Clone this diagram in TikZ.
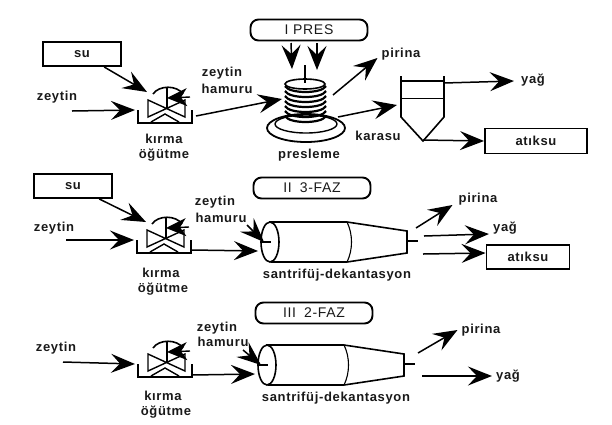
\documentclass[tikz,border=0pt]{standalone}
\usepackage{fontspec}
\setmainfont{Liberation Sans}
\newfontfamily\tagfont[LetterSpace=5]{Liberation Sans}
\usepackage{tikz}
\usetikzlibrary{arrows.meta}
\tikzstyle{tag} = [font=\tagfont\fontsize{13}{15}\selectfont\bfseries, inner sep=4pt, text=black!90]
\tikzstyle{block} = [rectangle, draw=black, line width=1.9pt, minimum width=78pt, minimum height=24pt, tag]
\tikzstyle{pill} = [rectangle, rounded corners=8pt, draw=black, line width=1.9pt, minimum width=117pt, minimum height=21pt, tag, font=\tagfont\fontsize{14}{16}\selectfont]
\tikzstyle{arrow} = [line width=1.5pt,-{Stealth[length=24pt,width=19pt,inset=9pt,line width=1.4pt]}]
\tikzstyle{wall} = [line width=1.6pt]
\tikzset{
  mill/.pic={
    \draw [line width=2pt] (-27,-13) -- (-27,0) -- (27,0) -- (27,-13);
    \draw [line width=1.4pt] (-17,-23) -- (-17,-6) -- (20,-23) -- (20,-6) -- cycle;
    \draw [line width=1.4pt] (-14,-1) -- (0,-9) -- (14,-1);
    \draw [line width=1.6pt] (-12,-29) .. controls (-6,-38) and (12,-38) .. (18,-29);
    \draw [line width=1.6pt] (2,-36) -- (2,-14);
    \draw [line width=1.4pt,-{Stealth[length=20pt,width=18pt,inset=6pt,line width=1.4pt]}] (25,-26) -- (2,-25);
    \coordinate (-su) at (-18,-31);
    \coordinate (-in) at (-30,-13);
    \coordinate (-out) at (31,-7);
  },
  decanter/.pic={
    \draw [wall] (0,0) ellipse [x radius=9pt, y radius=20pt];
    \draw [wall] (-1,-20) -- (77,-20) -- (137,-11) -- (137,11) -- (77,20) -- (1,20);
    \draw [line width=1.1pt] (77,-20) .. controls (83,-8) and (83,8) .. (77,20);
    \draw [wall] (137,-1) -- (148,-1);
    \draw [wall] (-9,0) -- (1,0);
    \coordinate (-hamur) at (-6,0);
    \coordinate (-in) at (-12,9);
  }
}

\begin{document}
\begin{tikzpicture}[x=1pt,y=-1pt,node distance=16pt]
\useasboundingbox (0,0) rectangle (612,424);

% I PRES
\node (pres) [pill] at (309,30) {I PRES};
\node (su1) [block] at (82,54) {su};
\node (zeytin1) [tag] at (57,97) {zeytin};
\pic (mill1) at (165,123) {mill};
\node (kirma1) [tag] at (164,139) {kırma};
\node (ogutme1) [tag, below of=kirma1] {öğütme};
\node (hamur1) [tag] at (222,73) {zeytin};
\node (hamuru1) [tag, below of=hamur1, xshift=5pt] {hamuru};
\node (presleme) [tag] at (309,155) {presleme};
\node (pirina1) [tag] at (401,54) {pirina};
\node (karasu) [tag] at (378,136) {karasu};
\node (yag1) [tag] at (533,80) {yağ};
\node (atiksu1) [block, minimum width=102pt, minimum height=25pt] at (536,141) {atıksu};

% pres
\draw [line width=1.8pt] (306,128) ellipse [x radius=39pt, y radius=14pt];
\draw [line width=1.4pt] (306,124) ellipse [x radius=31pt, y radius=9pt];
\draw [line width=1.6pt, fill=white] (305,84) ellipse [x radius=20pt, y radius=5pt];
\foreach \y in {86,91,96,101,106,111,116}
  \draw [line width=2.2pt] (285,\y) .. controls (289,\y+8) and (322,\y+8) .. (326,\y);
\draw [line width=1.8pt] (305,65) -- (305,83);
\coordinate (press1top) at (291,43);
\coordinate (press1down) at (292,69);
\coordinate (press2top) at (317,43);
\coordinate (press2down) at (317,70);
\coordinate (press1out) at (333,95);
\coordinate (press1liq) at (338,117);

% tank
\draw [wall] (401,76) -- (401,117) -- (423,141) -- (444,117) -- (444,76);
\draw [wall] (401,81) -- (444,81);
\draw [line width=1pt] (401,98) -- (444,98);
\coordinate (tankin) at (397,105);
\coordinate (tankoil) at (444,83);
\coordinate (tankout) at (423,140);

% II 3-FAZ
\node (faz3) [pill] at (312,188) {II\hspace{8pt}3-FAZ};
\node (su2) [block] at (73,186) {su};
\node (zeytin2) [tag] at (54,228) {zeytin};
\pic (mill2) at (164,253) {mill};
\node (kirma2) [tag] at (161,273) {kırma};
\node (ogutme2) [tag, below of=kirma2, xshift=2pt] {öğütme};
\node (hamur2) [tag] at (215,202) {zeytin};
\node (hamuru2) [tag, below of=hamur2, xshift=6pt] {hamuru};
\pic (dec2) at (270,242) {decanter};
\node (sant2) [tag] at (337,275) {santrifüj-dekantasyon};
\node (pirina2) [tag] at (478,199) {pirina};
\node (yag2) [tag] at (505,228) {yağ};
\node (atiksu2) [block, minimum width=83pt] at (528,257) {atıksu};
\coordinate (dec2top) at (416,228);
\coordinate (dec2oil) at (424,236);
\coordinate (dec2out) at (423,254);

% III 2-FAZ
\node (faz2) [pill] at (314,313) {III\hspace{8pt}2-FAZ};
\node (zeytin3) [tag] at (56,348) {zeytin};
\pic (mill3) at (165,377) {mill};
\node (kirma3) [tag] at (163,396) {kırma};
\node (ogutme3) [tag, below of=kirma3, xshift=3pt] {öğütme};
\node (hamur3) [tag] at (217,328) {zeytin};
\node (hamuru3) [tag, below of=hamur3, xshift=6pt, yshift=2pt] {hamuru};
\pic (dec3) at (267,365) {decanter};
\node (sant3) [tag] at (336,398) {santrifüj-dekantasyon};
\node (pirina3) [tag] at (481,330) {pirina};
\node (yag3) [tag] at (508,376) {yağ};
\coordinate (dec3top) at (418,353);
\coordinate (dec3oil) at (422,376);

% free ends of the feed lines
\coordinate (feed1) at (72,111);
\coordinate (feed2) at (66,240);
\coordinate (feed3) at (63,362);
\coordinate (hamur2diag) at (247,225);
\coordinate (hamur3diag) at (243,350);
\coordinate (mill2exit) at (192,250);
\coordinate (mill3exit) at (192,375);

% arrows I
\draw [arrow] (su1) -- (mill1-su);
\draw [arrow] (feed1) -- (mill1-in);
\draw [arrow] (mill1-out) -- (282,99);
\draw [arrow] (press1top) -- (press1down);
\draw [arrow] (press2top) -- (press2down);
\draw [arrow] (press1out) -- ([yshift=-4pt]pirina1.west);
\draw [arrow] (press1liq) -- (tankin);
\draw [arrow] (tankoil) -- ([xshift=-3pt,yshift=-1pt]yag1.west);
\draw [arrow] (tankout) -- (atiksu1.west);

% arrows II
\draw [arrow] (su2) -- (mill2-su);
\draw [arrow] (feed2) -- (mill2-in);
\draw [arrow] (mill2exit) -- (dec2-in);
\draw [arrow] (hamur2diag) -- (dec2-hamur);
\draw [arrow] (dec2top) -- ([xshift=-2pt,yshift=-6pt]pirina2.west);
\draw [arrow] (dec2oil) -- ([yshift=-6pt]yag2.west);
\draw [arrow] (dec2out) -- ([yshift=4pt]atiksu2.west);

% arrows III
\draw [arrow] (feed3) -- (mill3-in);
\draw [arrow] (mill3exit) -- (dec3-in);
\draw [arrow] (hamur3diag) -- (dec3-hamur);
\draw [arrow] (dec3top) -- (pirina3.west);
\draw [arrow] (dec3oil) -- (yag3.west);

\end{tikzpicture}
\end{document}
